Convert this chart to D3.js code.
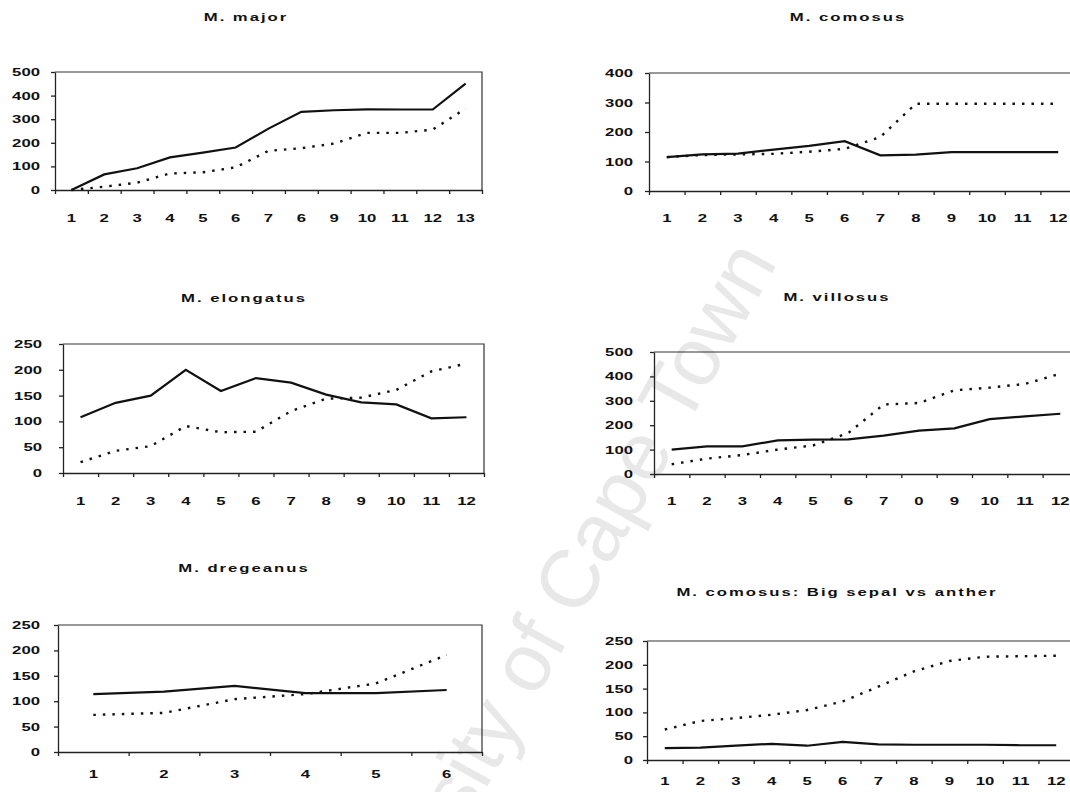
<!DOCTYPE html>
<html>
<head>
<meta charset="utf-8">
<script src="https://cdn.jsdelivr.net/npm/d3@7"></script>
<style>
  html, body { margin: 0; padding: 0; background: #fff; }
  svg { display: block; font-family: "Liberation Sans", Arial, sans-serif; }
</style>
</head>
<body>
<div id="chart"></div>
<script>
// values: solid line = first series, dotted = second
var majorSolid = [0, 66, 92, 138, 158, 180, 260, 331, 338, 342, 341, 341, 451];
var majorDotted = [0, 14, 31, 70, 75, 96, 166, 177, 197, 242, 242, 256, 345];

var comosusSolid = [115, 124, 127, 140, 153, 169, 121, 123, 132, 132, 132, 132];
var comosusDotted = [115, 122, 124, 126, 133, 143, 183, 296, 296, 296, 296, 296];

var elongatusSolid = [108, 136, 150, 200, 159, 184, 175, 152, 137, 133, 106, 108];
var elongatusDotted = [21, 43, 52, 91, 79, 80, 120, 144, 146, 161, 197, 212];

var villosusSolid = [100, 113, 113, 138, 141, 142, 157, 178, 187, 225, 236, 247];
var villosusDotted = [40, 63, 78, 100, 117, 168, 285, 291, 343, 354, 369, 411];

var dregeanusSolid = [114, 119, 130, 116, 116, 122];
var dregeanusDotted = [73, 77, 104, 114, 135, 191];

var sepalSolid = [25, 26, 30, 34, 30, 38, 33, 32, 32, 32, 31, 31];
var sepalDotted = [64, 82, 88, 95, 105, 123, 154, 186, 208, 217, 218, 219];

// tick labels as printed (the scan turned some 8s into 6 / 0)
var majorTicks = ["1", "2", "3", "4", "5", "6", "7", "6", "9", "10", "11", "12", "13"];
var twelveTicks = ["1", "2", "3", "4", "5", "6", "7", "8", "9", "10", "11", "12"];
var villosusTicks = ["1", "2", "3", "4", "5", "6", "7", "0", "9", "10", "11", "12"];
var sixTicks = ["1", "2", "3", "4", "5", "6"];

var titles = ["M. major", "M. comosus", "M. elongatus", "M. villosus", "M. dregeanus", "M. comosus: Big sepal vs anther"];

var width = 1070, height = 792;
var stretch = 1.52; // the scan is stretched sideways, so is the text

var panels = [
  {title: titles[0], solid: majorSolid, dotted: majorDotted, labels: majorTicks, yMax: 500, yStep: 100,
   left: 55, right: 482, top: 72, bottom: 190, titleX: 246, titleY: 21, yLabelX: 40, xLabelY: 222},
  {title: titles[1], solid: comosusSolid, dotted: comosusDotted, labels: twelveTicks, yMax: 400, yStep: 100,
   left: 649, right: 1076, top: 73, bottom: 191, titleX: 848, titleY: 21, yLabelX: 633, xLabelY: 222},
  {title: titles[2], solid: elongatusSolid, dotted: elongatusDotted, labels: twelveTicks, yMax: 250, yStep: 50,
   left: 63, right: 484, top: 344, bottom: 473, titleX: 244, titleY: 302, yLabelX: 42, xLabelY: 505},
  {title: titles[3], solid: villosusSolid, dotted: villosusDotted, labels: villosusTicks, yMax: 500, yStep: 100,
   left: 654, right: 1078, top: 352, bottom: 474, titleX: 837, titleY: 301, yLabelX: 633, xLabelY: 505},
  {title: titles[4], solid: dregeanusSolid, dotted: dregeanusDotted, labels: sixTicks, yMax: 250, yStep: 50,
   left: 58, right: 482, top: 625, bottom: 752, titleX: 244, titleY: 572, yLabelX: 40, xLabelY: 778},
  {title: titles[5], solid: sepalSolid, dotted: sepalDotted, labels: twelveTicks, yMax: 250, yStep: 50,
   left: 647, right: 1074, top: 641, bottom: 760, titleX: 837, titleY: 596, yLabelX: 633, xLabelY: 785}
];

var svg = d3.select("#chart").append("svg")
    .attr("width", width)
    .attr("height", height)
    .style("background", "#fff");

// faint watermark across the page
svg.append("text")
    .attr("transform", "translate(778,262) rotate(-61)")
    .attr("text-anchor", "end")
    .style("font-size", "82px")
    .style("fill", "#e8e8e8")
    .text("University of Cape Town");

function stretchedText(g, x, y, anchor, txt) {
  return g.append("text")
      .attr("transform", "translate(" + x + "," + y + ") scale(" + stretch + ",1)")
      .attr("text-anchor", anchor)
      .style("fill", "#111")
      .text(txt);
}

function drawPanel(p) {
  var g = svg.append("g");
  var n = p.labels.length;

  var x = d3.scaleBand()
      .domain(d3.range(n))
      .range([p.left, p.right]);
  var xEdge = d3.scaleLinear()
      .domain([0, n])
      .range([p.left, p.right]);
  var y = d3.scaleLinear()
      .domain([0, p.yMax])
      .range([p.bottom, p.top]);

  // top and right frame
  g.append("path")
      .attr("d", "M" + p.left + "," + p.top + "H" + p.right + "V" + p.bottom)
      .attr("fill", "none")
      .attr("stroke", "#333")
      .attr("stroke-width", 1.2);

  var yAxis = g.append("g")
      .attr("transform", "translate(" + p.left + ",0)")
      .call(d3.axisLeft(y)
          .tickValues(d3.range(0, p.yMax + 1, p.yStep))
          .tickSize(4)
          .tickSizeOuter(0)
          .tickFormat(""));

  var xAxis = g.append("g")
      .attr("transform", "translate(0," + p.bottom + ")")
      .call(d3.axisBottom(xEdge)
          .tickValues(d3.range(0, n + 1))
          .tickSize(4)
          .tickSizeOuter(0)
          .tickFormat(""));

  [yAxis, xAxis].forEach(function(a) {
    a.selectAll("path, line").attr("stroke", "#222").attr("stroke-width", 1.3);
  });

  // y labels
  var yl = g.append("g").style("font-size", "11px").style("font-weight", "bold");
  d3.range(0, p.yMax + 1, p.yStep).forEach(function(v) {
    stretchedText(yl, p.yLabelX, y(v) + 4, "end", v);
  });

  // x labels at band centres
  var xl = g.append("g").style("font-size", "11px").style("font-weight", "bold");
  p.labels.forEach(function(l, i) {
    stretchedText(xl, x(i) + x.bandwidth() / 2, p.xLabelY, "middle", l);
  });

  stretchedText(g, p.titleX, p.titleY, "middle", p.title)
      .style("font-size", "11px")
      .style("font-weight", "bold")
      .style("letter-spacing", "1.3px");

  var line = d3.line()
      .x(function(d, i) { return x(i) + x.bandwidth() / 2; })
      .y(function(d) { return y(d); });

  g.append("path")
      .datum(p.dotted)
      .attr("fill", "none")
      .attr("stroke", "#111")
      .attr("stroke-width", 2.4)
      .attr("stroke-dasharray", "2.5,7")
      .attr("d", line);

  g.append("path")
      .datum(p.solid)
      .attr("fill", "none")
      .attr("stroke", "#111")
      .attr("stroke-width", 2.2)
      .attr("d", line);
}

panels.forEach(drawPanel);
</script>
</body>
</html>
